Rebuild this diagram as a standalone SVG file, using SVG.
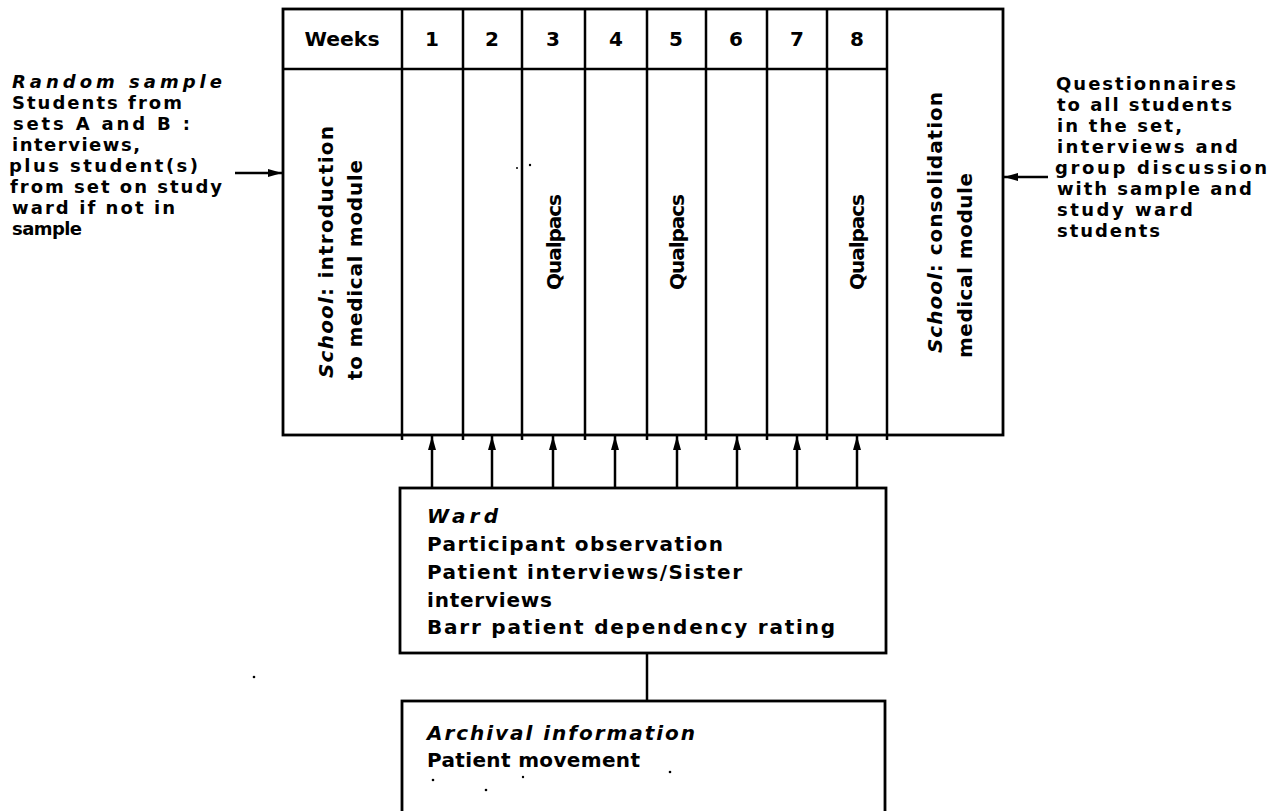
<svg xmlns="http://www.w3.org/2000/svg" width="1283" height="811" viewBox="0 0 1283 811">
<style>
text{font-family:"DejaVu Sans","Liberation Sans",sans-serif;font-weight:bold;font-size:20px;fill:#000}
.nt{font-size:18px}
.it{font-style:italic}
.ln{stroke:#000;stroke-width:2.5;fill:none}
.bx{stroke:#000;stroke-width:2.8;fill:#fff}
.c{text-anchor:middle}
</style>
<defs>
<marker id="ah" viewBox="0 0 14 8" refX="14" refY="4" markerWidth="14" markerHeight="8" orient="auto" markerUnits="userSpaceOnUse">
<path d="M0,0 L14,4 L0,8 z" fill="#000"/>
</marker>
</defs>
<rect width="1283" height="811" fill="#fff"/>

<g id="left-note">
<text x="12" y="88" class="nt it" textLength="210" lengthAdjust="spacing">Random sample</text>
<text x="12" y="109" class="nt" textLength="170" lengthAdjust="spacing">Students from</text>
<text x="13" y="130" class="nt" textLength="177" lengthAdjust="spacing">sets A and B :</text>
<text x="12" y="151" class="nt" textLength="128" lengthAdjust="spacing">interviews,</text>
<text x="9" y="172" class="nt" textLength="189" lengthAdjust="spacing">plus student(s)</text>
<text x="10" y="193" class="nt" textLength="212" lengthAdjust="spacing">from set on study</text>
<text x="12" y="214" class="nt" textLength="163" lengthAdjust="spacing">ward if not in</text>
<text x="12" y="235" class="nt" textLength="70" lengthAdjust="spacing">sample</text>
</g>

<g id="right-note">
<text x="1056" y="90" class="nt" textLength="180" lengthAdjust="spacing">Questionnaires</text>
<text x="1057" y="111" class="nt" textLength="175" lengthAdjust="spacing">to all students</text>
<text x="1057" y="132" class="nt" textLength="125" lengthAdjust="spacing">in the set,</text>
<text x="1057" y="153" class="nt" textLength="181" lengthAdjust="spacing">interviews and</text>
<text x="1055" y="174" class="nt" textLength="212" lengthAdjust="spacing">group discussion</text>
<text x="1057" y="195" class="nt" textLength="195" lengthAdjust="spacing">with sample and</text>
<text x="1057" y="216" class="nt" textLength="136" lengthAdjust="spacing">study ward</text>
<text x="1057" y="237" class="nt" textLength="103" lengthAdjust="spacing">students</text>
</g>

<g id="schedule">
<rect x="283" y="9" width="720" height="426" class="bx"/>
<line x1="283" y1="69" x2="887" y2="69" class="ln"/>
<g class="ln">
<line x1="402" y1="9" x2="402" y2="440"/>
<line x1="463" y1="9" x2="463" y2="440"/>
<line x1="522" y1="9" x2="522" y2="440"/>
<line x1="585" y1="9" x2="585" y2="440"/>
<line x1="647" y1="9" x2="647" y2="440"/>
<line x1="706" y1="9" x2="706" y2="440"/>
<line x1="767" y1="9" x2="767" y2="440"/>
<line x1="827" y1="9" x2="827" y2="440"/>
<line x1="887" y1="9" x2="887" y2="440"/>
</g>
<text x="342" y="46" class="c" textLength="75" lengthAdjust="spacingAndGlyphs">Weeks</text>
<text x="432" y="46" class="c">1</text>
<text x="492" y="46" class="c">2</text>
<text x="553" y="46" class="c">3</text>
<text x="616" y="46" class="c">4</text>
<text x="676" y="46" class="c">5</text>
<text x="736" y="46" class="c">6</text>
<text x="797" y="46" class="c">7</text>
<text x="857" y="46" class="c">8</text>
<text transform="translate(333,378) rotate(-90)" textLength="252" lengthAdjust="spacing"><tspan class="it">School</tspan>: introduction</text>
<text transform="translate(362,380) rotate(-90)" textLength="220" lengthAdjust="spacing">to medical module</text>
<text transform="translate(561,290) rotate(-90)" textLength="96" lengthAdjust="spacing">Qualpacs</text>
<text transform="translate(684,290) rotate(-90)" textLength="96" lengthAdjust="spacing">Qualpacs</text>
<text transform="translate(864,290) rotate(-90)" textLength="96" lengthAdjust="spacing">Qualpacs</text>
<text transform="translate(942,353) rotate(-90)" textLength="261" lengthAdjust="spacing"><tspan class="it">School</tspan>: consolidation</text>
<text transform="translate(972,358) rotate(-90)" textLength="185" lengthAdjust="spacing">medical module</text>
</g>

<g id="ward">
<rect x="400" y="488" width="486" height="165" class="bx"/>
<text x="427" y="523" class="it" textLength="71" lengthAdjust="spacing">Ward</text>
<text x="427" y="551" textLength="296" lengthAdjust="spacing">Participant observation</text>
<text x="427" y="579" textLength="315" lengthAdjust="spacing">Patient interviews/Sister</text>
<text x="427" y="607" textLength="125" lengthAdjust="spacing">interviews</text>
<text x="427" y="634" textLength="408" lengthAdjust="spacing">Barr patient dependency rating</text>
</g>

<g id="archival">
<rect x="402" y="701" width="483" height="130" class="bx"/>
<text x="427" y="740" class="it" textLength="268" lengthAdjust="spacing">Archival information</text>
<text x="427" y="767" textLength="213" lengthAdjust="spacing">Patient movement</text>
</g>

<g id="connectors" class="ln">
<line x1="235" y1="173" x2="282" y2="173" marker-end="url(#ah)"/>
<line x1="1048" y1="177" x2="1004" y2="177" marker-end="url(#ah)"/>
<line x1="432" y1="488" x2="432" y2="436" marker-end="url(#ah)"/>
<line x1="492" y1="488" x2="492" y2="436" marker-end="url(#ah)"/>
<line x1="553" y1="488" x2="553" y2="436" marker-end="url(#ah)"/>
<line x1="615" y1="488" x2="615" y2="436" marker-end="url(#ah)"/>
<line x1="677" y1="488" x2="677" y2="436" marker-end="url(#ah)"/>
<line x1="737" y1="488" x2="737" y2="436" marker-end="url(#ah)"/>
<line x1="797" y1="488" x2="797" y2="436" marker-end="url(#ah)"/>
<line x1="857" y1="488" x2="857" y2="436" marker-end="url(#ah)"/>
<line x1="647" y1="653" x2="647" y2="701"/>
</g>

<g id="specks" fill="#000">
<circle cx="254" cy="677" r="1.3"/>
<circle cx="433" cy="780" r="1.3"/>
<circle cx="523" cy="777" r="1.2"/>
<circle cx="486" cy="790" r="1.3"/>
<circle cx="670" cy="772" r="1.3"/>
<circle cx="517" cy="168" r="1"/>
<circle cx="530" cy="165" r="1.2"/>
</g>
</svg>
